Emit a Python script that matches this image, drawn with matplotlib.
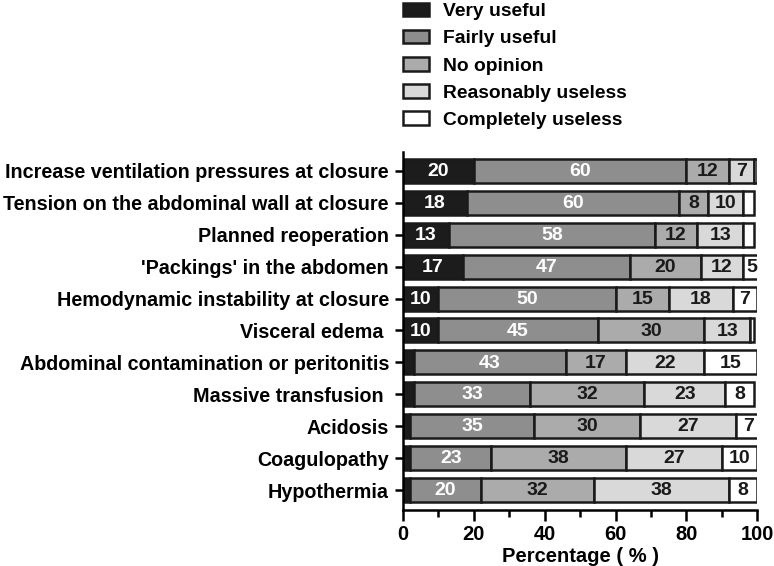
import matplotlib.pyplot as plt
import numpy as np

plt.rcParams['font.family'] = ['Liberation Sans', 'DejaVu Sans']
plt.rcParams['font.weight'] = 'bold'

factors = [
    "Increase ventilation pressures at closure",
    "Tension on the abdominal wall at closure",
    "Planned reoperation",
    "'Packings' in the abdomen",
    "Hemodynamic instability at closure",
    "Visceral edema ",
    "Abdominal contamination or peritonitis",
    "Massive transfusion ",
    "Acidosis",
    "Coagulopathy",
    "Hypothermia",
]

very_useful = [20, 18, 13, 17, 10, 10, 3, 3, 2, 2, 2]
fairly_useful = [60, 60, 58, 47, 50, 45, 43, 33, 35, 23, 20]
no_opinion = [12, 8, 12, 20, 15, 30, 17, 32, 30, 38, 32]
reasonably_useless = [7, 10, 13, 12, 18, 13, 22, 23, 27, 27, 38]
completely_useless = [1, 3, 3, 5, 7, 1, 15, 8, 7, 10, 8]

series = [very_useful, fairly_useful, no_opinion, reasonably_useless, completely_useless]
names = ["Very useful", "Fairly useful", "No opinion", "Reasonably useless", "Completely useless"]
colors = ["#1c1c1c", "#8e8e8e", "#ababab", "#d9d9d9", "#ffffff"]
text_colors = ["white", "white", "#1a1a1a", "#1a1a1a", "#1a1a1a"]

fig = plt.figure(figsize=(7.74, 5.66), dpi=100)
ax = fig.add_axes([0.5205, 0.099, 0.458, 0.632])

y = np.arange(len(factors))
left = np.zeros(len(factors))
handles = []
for vals, name, col, tcol in zip(series, names, colors, text_colors):
    vals = np.array(vals, dtype=float)
    bars = ax.barh(y, vals, left=left, height=0.75, color=col,
                   edgecolor="#1a1a1a", linewidth=1.8, label=name)
    handles.append(bars)
    for yi, l, v in zip(y, left, vals):
        if v >= 5:
            ax.text(l + v / 2, yi + 0.02, f"{int(v)}", ha="center", va="center",
                    color=tcol, fontsize=14, fontweight="bold")
    left += vals

ax.set_xlim(0, 100)
ax.set_ylim(10.62, -0.58)
ax.set_yticks(y)
ax.set_yticklabels(factors, fontsize=14.2, fontweight="bold")
ax.set_xticks(np.arange(0, 101, 20))
ax.set_xticks(np.arange(10, 100, 20), minor=True)
ax.tick_params(axis="x", labelsize=14.5, width=1.8, length=8, pad=3)
ax.tick_params(axis="x", which="minor", width=1.8, length=5)
ax.tick_params(axis="y", width=1.8, length=6, pad=4)
for lab in ax.get_xticklabels():
    lab.set_fontweight("bold")
ax.spines["top"].set_visible(False)
ax.spines["right"].set_visible(False)
ax.spines["left"].set_linewidth(1.8)
ax.spines["bottom"].set_linewidth(1.8)
ax.set_xlabel("Percentage ( % )", fontsize=14.5, fontweight="bold", labelpad=2)

fig.legend(handles=handles, labels=names, loc="upper left",
           bbox_to_anchor=(0.498, 1.026), frameon=False,
           prop={"size": 13.9, "weight": "bold"}, handlelength=1.35,
           handleheight=0.7, handletextpad=0.75, labelspacing=0.5)

fig.savefig("out.png", dpi=100)
